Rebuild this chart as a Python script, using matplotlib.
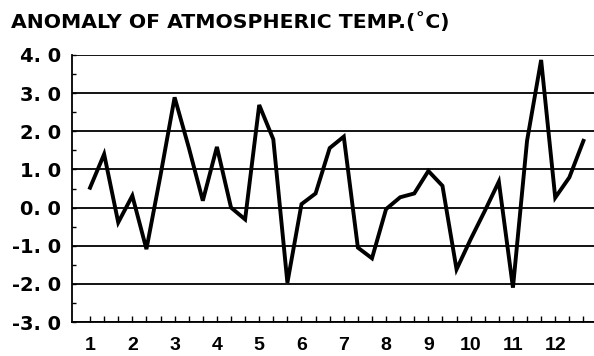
import matplotlib
matplotlib.use("Agg")
import matplotlib.pyplot as plt
from matplotlib.ticker import FixedLocator, MultipleLocator

title = "ANOMALY OF ATMOSPHERIC TEMP.(\u02daC)"
months = ["1", "2", "3", "4", "5", "6", "7", "8", "9", "10", "11", "12"]
dekads_per_month = 3
anomaly = [0.52, 1.40, -0.39, 0.31, -1.09, 0.85,
           2.89, 1.58, 0.18, 1.59, 0.00, -0.31,
           2.69, 1.79, -1.97, 0.09, 0.37, 1.56,
           1.86, -1.05, -1.33, -0.04, 0.27, 0.37,
           0.96, 0.57, -1.62, -0.83, -0.09, 0.68,
           -2.10, 1.75, 3.87, 0.26, 0.79, 1.75]
y_ticks = [-3, -2, -1, 0, 1, 2, 3, 4]
y_tick_labels = ["-3. 0", "-2. 0", "-1. 0", "0. 0", "1. 0", "2. 0", "3. 0", "4. 0"]

plt.rcParams['font.family'] = ['Liberation Sans', 'DejaVu Sans']

fig = plt.figure(figsize=(5.94, 3.56), dpi=100)
ax = fig.add_axes([72/594, 1-322/356, 522/594, 267/356])

x = list(range(len(anomaly)))
ax.plot(x, anomaly, color='black', linewidth=2.8, solid_joinstyle='miter', zorder=3)

ax.set_ylim(-3, 4)
ax.set_xlim(-1.28, 35.75)

for yv in y_ticks:
    ax.axhline(yv, color='black', linewidth=1.3, zorder=1)

ax.yaxis.set_major_locator(FixedLocator(y_ticks))
ax.set_yticklabels(y_tick_labels, fontsize=14, fontweight='bold', family='DejaVu Sans')
ax.yaxis.set_minor_locator(MultipleLocator(0.5))
ax.tick_params(axis='y', which='both', direction='in', length=3, width=1, pad=8)

ax.xaxis.set_major_locator(FixedLocator([i * dekads_per_month for i in range(len(months))]))
ax.set_xticklabels(months, fontsize=14, fontweight='bold')
ax.xaxis.set_minor_locator(FixedLocator(x))
ax.tick_params(axis='x', which='both', direction='in', length=4, width=1, pad=11)

for s in ['top', 'right']:
    ax.spines[s].set_visible(False)
for s in ['left', 'bottom']:
    ax.spines[s].set_linewidth(1.3)

t = fig.text(11/594, 1-22/356, title, fontsize=13, fontweight='bold',
             family='DejaVu Sans', va='center', ha='left')
fig.canvas.draw()
w = t.get_window_extent().width
t.set_fontsize(13 * 438.0 / w)

fig.savefig("out.png", dpi=100)
